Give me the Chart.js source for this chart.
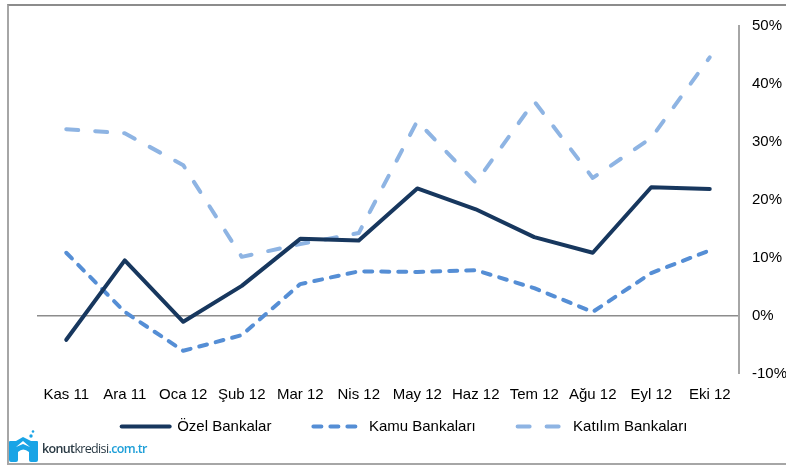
<!DOCTYPE html>
<html><head><meta charset="utf-8">
<script src="https://cdn.jsdelivr.net/npm/chart.js@4"></script>
<style>
html,body{margin:0;padding:0;background:#fff;width:786px;height:465px;overflow:hidden}
#wrap{position:absolute;left:0;top:0;width:786px;height:465px}
#frame{position:absolute;left:7px;top:4px;width:790px;height:457px;border:2px solid #a6a6a6;border-top-color:#8c8c8c;box-sizing:content-box;pointer-events:none}
#logo{position:absolute;left:8px;top:430px;height:32px;width:32px}
#logoText{position:absolute;left:42px;top:441px;font:600 12.5px/16px "Open Sans",sans-serif;letter-spacing:-0.65px;color:#2a3a44;white-space:nowrap}
#logoText i{font-style:normal;font-weight:400}
#logoText span{color:#1e9fd8}
</style></head><body>
<div id="wrap"><canvas id="c" width="786" height="465"></canvas></div>
<div id="frame"></div>
<svg id="logo" viewBox="0 0 32 32"><path d="M2 11 H8 L15 7 L23 11 H29 Q30 11 30 12 V30 Q30 32 28 32 H23 Q21 32 21 30 V22 Q15 17 10 22 V30 Q10 32 8 32 H3 Q1 32 1 30 V12 Q1 11 2 11Z" fill="#19a4e6"/><path d="M8 17 L15 11 L22 17 L15 14Z" fill="#fff"/><circle cx="23" cy="6" r="1.7" fill="#19a4e6"/><circle cx="25" cy="1.5" r="1.3" fill="#19a4e6"/></svg>
<div id="logoText">konut<i>kredisi</i><span>.com.tr</span></div>
<script>
const categories=['Kas 11','Ara 11','Oca 12','Şub 12','Mar 12','Nis 12','May 12','Haz 12','Tem 12','Ağu 12','Eyl 12','Eki 12'];
const ozel=[-4.1,9.6,-1,5.2,13.3,13,22,18.4,13.6,10.9,22.2,21.9];
const kamu=[10.9,0.7,-6,-3.3,5.5,7.7,7.6,7.9,4.8,0.7,7.4,11.3];
const katilim=[32.2,31.5,26,10.2,12.4,14.3,33.6,23,37,23.8,30.7,44.6];
const font={family:'"Liberation Sans",Arial,sans-serif',size:15};
function ds(label,data,color,dash){return{label,data,borderColor:color,backgroundColor:color,borderWidth:4,borderDash:dash,borderCapStyle:'round',borderJoinStyle:'round',pointRadius:0,tension:0,fill:false,pointStyle:'line'};}
const legendPlacer={id:'legendPlacer',
afterLayout(chart){const l=chart.legend;l.top=377;l.bottom=460;l.left-=7;l.right-=7;}};
new Chart(document.getElementById('c'),{type:'line',plugins:[legendPlacer],
data:{labels:categories,datasets:[ds('Özel Bankalar',ozel,'#17375e',[]),ds('Kamu Bankaları',kamu,'#558ed5',[8,9]),ds('Katılım Bankaları',katilim,'#8eb4e3',[12,17])]},
options:{responsive:false,animation:false,
layout:{padding:{left:37,right:0,top:26,bottom:39}},
plugins:{tooltip:{enabled:false},legend:{position:'bottom',maxHeight:10,labels:{font,color:'#000',usePointStyle:true,pointStyle:'line',pointStyleWidth:48,padding:42,boxHeight:15,
generateLabels(chart){return chart.data.datasets.map((d,i)=>({text:d.label,strokeStyle:d.borderColor,fillStyle:d.borderColor,lineWidth:4,lineDash:d.borderDash,lineCap:'round',pointStyle:'line',datasetIndex:i,fontColor:'#000'}));}}}},
scales:{
x:{offset:true,grid:{display:false,drawTicks:false},border:{display:false},ticks:{font,color:'#000',padding:12,maxRotation:0,autoSkip:false}},
y:{position:'right',min:-10,max:50,afterFit(a){a.width=47;},border:{display:true,color:'#a6a6a6',width:2},
grid:{drawTicks:false,color:c=>c.tick.value===0?'#8c8c8c':'transparent',lineWidth:c=>c.tick.value===0?1.5:0},
ticks:{font,color:'#000',padding:13,stepSize:10,callback:v=>v+'%'}}
}}});
</script></body></html>
